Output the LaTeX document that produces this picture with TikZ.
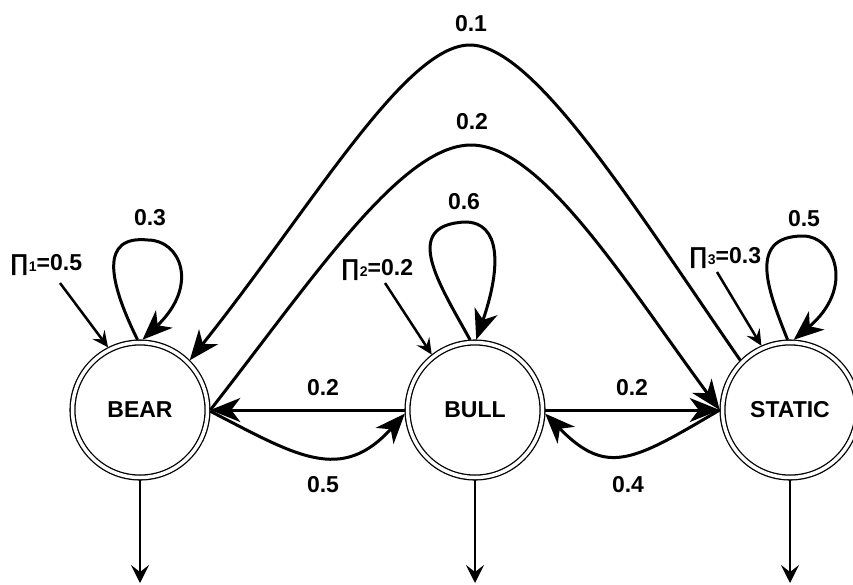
\documentclass[tikz,border=0pt]{standalone}
\usepackage{fontspec}
\setmainfont{Liberation Sans}
\usetikzlibrary{arrows.meta}
\newcommand{\pisub}[1]{{\fontsize{14}{14}\selectfont\raisebox{-1.5pt}{#1}}}
\begin{document}
\begin{tikzpicture}[x=1pt,y=-1pt,
  every node/.style={font=\fontsize{23}{27}\selectfont\bfseries, inner sep=0pt},
  state/.style={circle, draw=black, double, double distance=3.5pt, line width=1.3pt,
    minimum size=135pt, inner sep=0pt, outer sep=2.8pt},
  trans/.style={line width=3pt, -{Stealth[length=30pt,width=24pt,inset=9pt]}},
  parr/.style={line width=2.5pt, -{Stealth[length=16pt,width=15pt,inset=6pt]}},
  oarr/.style={line width=2.6pt, -{Stealth[length=18pt,width=18pt,inset=7pt]}},
  lbl/.style={}]
\useasboundingbox (0,0) rectangle (853,584);

% states
\node[state] (bear) at (140,410) {BEAR};
\node[state] (bull) at (475,410) {BULL};
\node[state] (static) at (790,410) {STATIC};

% self loops
\draw[trans] (bear.92) .. controls (108,280) and (100,235) .. (148,240)
  .. controls (180,240) and (200,285) .. (bear.88);
\draw[trans] (bull.94) .. controls (440,285) and (400,225) .. (465,222)
  .. controls (500,222) and (502,265) .. (bull.89);
\draw[trans] (static.92) .. controls (770,295) and (745,236) .. (803,236)
  .. controls (835,236) and (855,288) .. (static.87);

% long arcs
\draw[trans] (static.135) .. controls (638,213) and (535,45) .. (470,45)
  .. controls (405,45) and (312,207) .. (bear.45);
\draw[trans] (bear.east) .. controls (312,280) and (401,145) .. (471,145)
  .. controls (541,145) and (624,280) .. (static.west);

% neighbour transitions
\draw[trans] (bull.west) -- (bear.east);
\draw[trans] (bull.east) -- (static.west);
\draw[trans] (bear.-1) .. controls (297,456) and (341,484) .. (bull.183);
\draw[trans] (static.west) .. controls (633,461) and (607,477) .. (bull.-3);

% initial probabilities
\node[lbl] (pi1) at (46,265) {∏\pisub{1}=0.5};
\node[lbl] (pi2) at (377,270) {∏\pisub{2}=0.2};
\node[lbl] (pi3) at (725,258) {∏\pisub{3}=0.3};
\coordinate (p1s) at (60,283);
\coordinate (p2s) at (385,283);
\coordinate (p3s) at (717,272);
\draw[parr] (p1s) -- (bear.117);
\draw[parr] (p2s) -- (bull.128);
\draw[parr] (p3s) -- (static.114);

% outputs
\coordinate (bearout) at (140,583);
\coordinate (bullout) at (475,583);
\coordinate (staticout) at (790,583);
\draw[oarr] (bear.south) -- (bearout);
\draw[oarr] (bull.south) -- (bullout);
\draw[oarr] (static.south) -- (staticout);

% labels
\node[lbl] (l01) at (471,24) {0.1};
\node[lbl] (l02top) at (472,122) {0.2};
\node[lbl] (l03) at (150,218) {0.3};
\node[lbl] (l06) at (464,202) {0.6};
\node[lbl] (l05top) at (804,219) {0.5};
\node[lbl] (l02a) at (323,388) {0.2};
\node[lbl] (l02b) at (632,388) {0.2};
\node[lbl] (l05) at (323,485) {0.5};
\node[lbl] (l04) at (628,485) {0.4};
\end{tikzpicture}
\end{document}
